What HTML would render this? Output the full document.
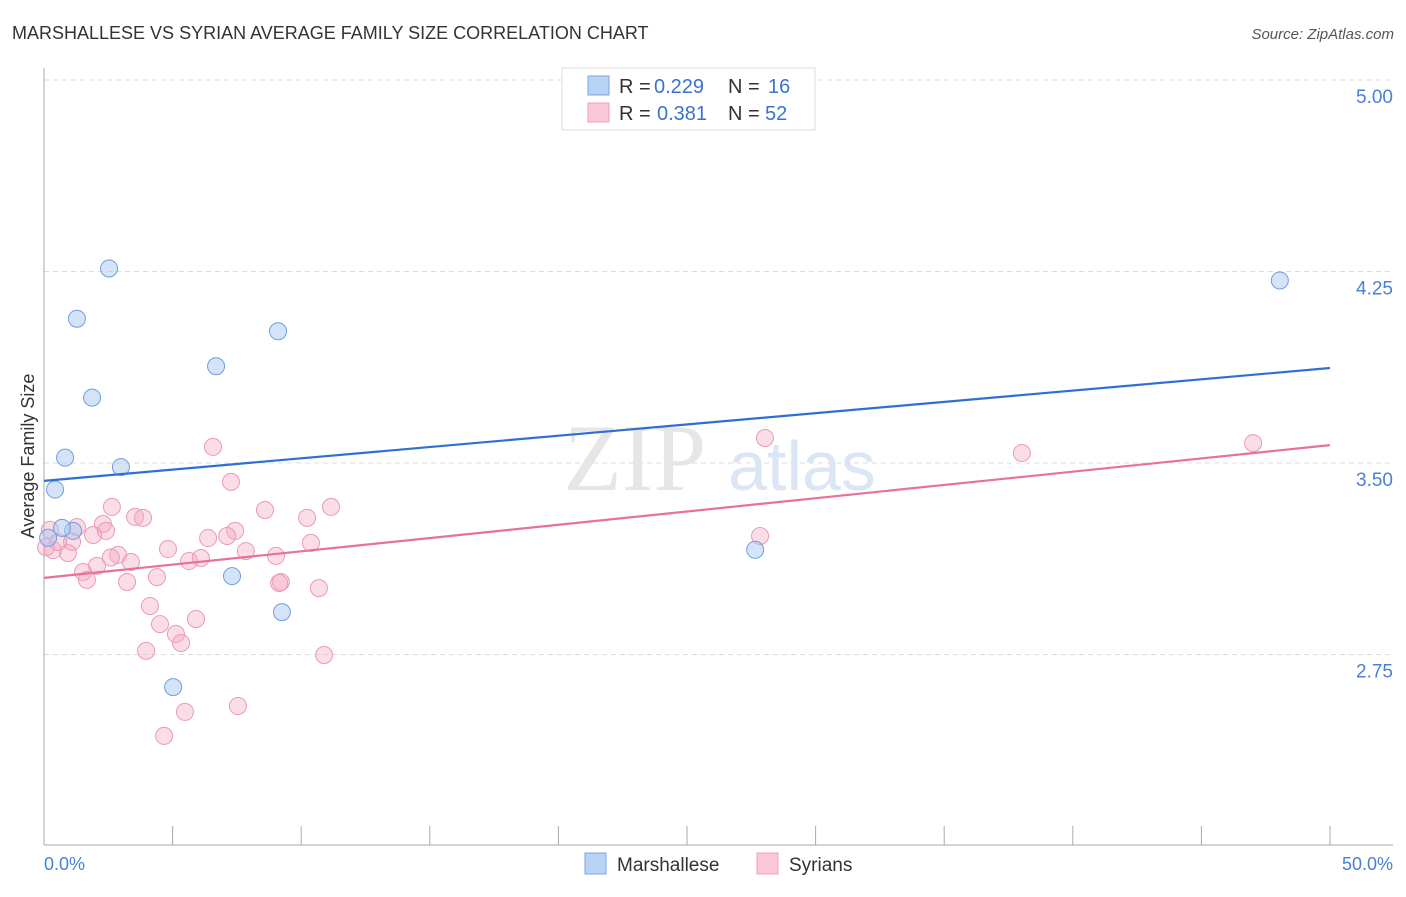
<!DOCTYPE html>
<html><head><meta charset="utf-8"><style>
body{margin:0;background:#fff;font-family:"Liberation Sans",sans-serif}
</style></head><body>
<svg width="1406" height="892" xmlns="http://www.w3.org/2000/svg" style="font-family:'Liberation Sans',sans-serif">
<text x="12" y="39" font-size="18" fill="#333">MARSHALLESE VS SYRIAN AVERAGE FAMILY SIZE CORRELATION CHART</text>
<text x="1394" y="39" font-size="15" fill="#555" font-style="italic" text-anchor="end">Source: ZipAtlas.com</text>
<g id="grid"></g>
<text x="635" y="490" font-size="95" fill="#e6e6e6" font-family="Liberation Serif" text-anchor="middle">ZIP</text>
<text x="802" y="490" font-size="70" fill="#dbe6f5" text-anchor="middle">atlas</text>
<line x1="44" y1="68" x2="44" y2="845" stroke="#aaa"/>
<line x1="44" y1="845" x2="1393" y2="845" stroke="#aaa"/>
<g id="ticks"></g>
<text x="34" y="456" font-size="18" fill="#333" text-anchor="middle" transform="rotate(-90 34 456)">Average Family Size</text>
<text x="44" y="870" font-size="18" fill="#4a7fd6">0.0%</text>
<text x="1393" y="870" font-size="18" fill="#4a7fd6" text-anchor="end">50.0%</text>
<g id="marks"></g>
<g>
<rect x="562" y="68" width="253" height="62" fill="#fff" stroke="#ddd"/>
<rect x="588" y="76" width="21" height="19" fill="#b8d3f5" stroke="#7aa6e3"/>
<rect x="588" y="103" width="21" height="19" fill="#fbc8d7" stroke="#eda0b8"/>
<text x="619" y="93" font-size="20" fill="#333">R =</text>
<text x="654" y="93" font-size="20" fill="#3a72d0">0.229</text>
<text x="728" y="93" font-size="20" fill="#333">N =</text>
<text x="768" y="93" font-size="20" fill="#3a72d0">16</text>
<text x="619" y="120" font-size="20" fill="#333">R =</text>
<text x="657" y="120" font-size="20" fill="#3a72d0">0.381</text>
<text x="728" y="120" font-size="20" fill="#333">N =</text>
<text x="765" y="120" font-size="20" fill="#3a72d0">52</text>
</g>
<g>
<rect x="585" y="853" width="21" height="21" fill="#b8d3f5" stroke="#7aa6e3"/>
<text x="617" y="871" font-size="19" fill="#333">Marshallese</text>
<rect x="757" y="853" width="21" height="21" fill="#fbc8d7" stroke="#eda0b8"/>
<text x="789" y="871" font-size="19" fill="#333">Syrians</text>
</g>
</svg>
<script>
const yTicks=[5.00,4.25,3.50,2.75];
const yTickLabels=["5.00","4.25","3.50","2.75"];
const xTicks=[0,5,10,15,20,25,30,35,40,45,50];
const blueX=[0.43,0.82,1.28,1.87,2.53,2.99,1.13,0.70,0.16,5.02,6.69,7.31,9.10,9.25,27.65,48.05];
const blueY=[3.396,3.521,4.065,3.756,4.262,3.484,3.234,3.246,3.207,2.622,3.879,3.057,4.016,2.916,3.160,4.215];
const pinkX=[6.57,7.27,2.64,8.59,11.16,10.23,3.54,3.85,2.29,2.41,1.28,1.91,7.43,7.12,6.38,10.38,0.23,1.09,0.93,0.35,4.82,7.85,9.02,2.88,3.38,5.64,6.10,1.52,1.67,2.06,3.23,4.39,9.21,9.14,10.69,4.12,4.51,5.91,5.13,5.33,3.97,10.89,5.48,7.54,4.67,28.03,38.02,47.01,27.84,0.08,0.55,2.6];
const pinkY=[3.563,3.426,3.328,3.316,3.328,3.285,3.289,3.285,3.261,3.234,3.249,3.218,3.234,3.214,3.206,3.187,3.238,3.191,3.147,3.159,3.163,3.155,3.136,3.140,3.112,3.116,3.128,3.073,3.042,3.097,3.034,3.053,3.034,3.030,3.010,2.940,2.869,2.889,2.830,2.795,2.764,2.748,2.525,2.548,2.431,3.598,3.539,3.578,3.214,3.170,3.19,3.13];
const blueTrend=[3.43,3.872];
const pinkTrend=[3.05,3.57];
const NS="http://www.w3.org/2000/svg";
const X=p=>44+p*25.72, Y=v=>463+(3.5-v)*255.3;
function mk(t,a,parent){const e=document.createElementNS(NS,t);for(const k in a)e.setAttribute(k,a[k]);document.getElementById(parent).appendChild(e);return e;}
yTicks.forEach((v,i)=>{
 const l=mk('line',{x1:44,x2:1393,y1:Y(v),y2:Y(v),stroke:'#ddd','stroke-dasharray':'5,4'},'grid');
 
 
 const t=mk('text',{x:1393,y:Y(v)+23,'font-size':19,fill:'#4a7fd6','text-anchor':'end'},'grid');
 t.textContent=yTickLabels[i];
 
 
});
xTicks.forEach(p=>{
 const l=mk('line',{x1:X(p),x2:X(p),y1:826,y2:845,stroke:'#aaa'},'ticks');
 
 
});
pinkX.forEach((p,i)=>{
 const c=mk('circle',{cx:X(p),cy:Y(pinkY[i]),r:8.5,fill:'rgba(246,170,196,0.4)',stroke:'#eb9ab4','stroke-width':1},'marks');
 
 
});
blueX.forEach((p,i)=>{
 const c=mk('circle',{cx:X(p),cy:Y(blueY[i]),r:8.5,fill:'rgba(170,200,242,0.5)',stroke:'#6f9fe0','stroke-width':1},'marks');
 
 
});
const bl=mk('line',{x1:X(0),y1:Y(blueTrend[0]),x2:X(50),y2:Y(blueTrend[1]),stroke:'#2f6fd3','stroke-width':2.2},'marks');


const pl=mk('line',{x1:X(0),y1:Y(pinkTrend[0]),x2:X(50),y2:Y(pinkTrend[1]),stroke:'#e8709a','stroke-width':2.2},'marks');


</script>
</body></html>
